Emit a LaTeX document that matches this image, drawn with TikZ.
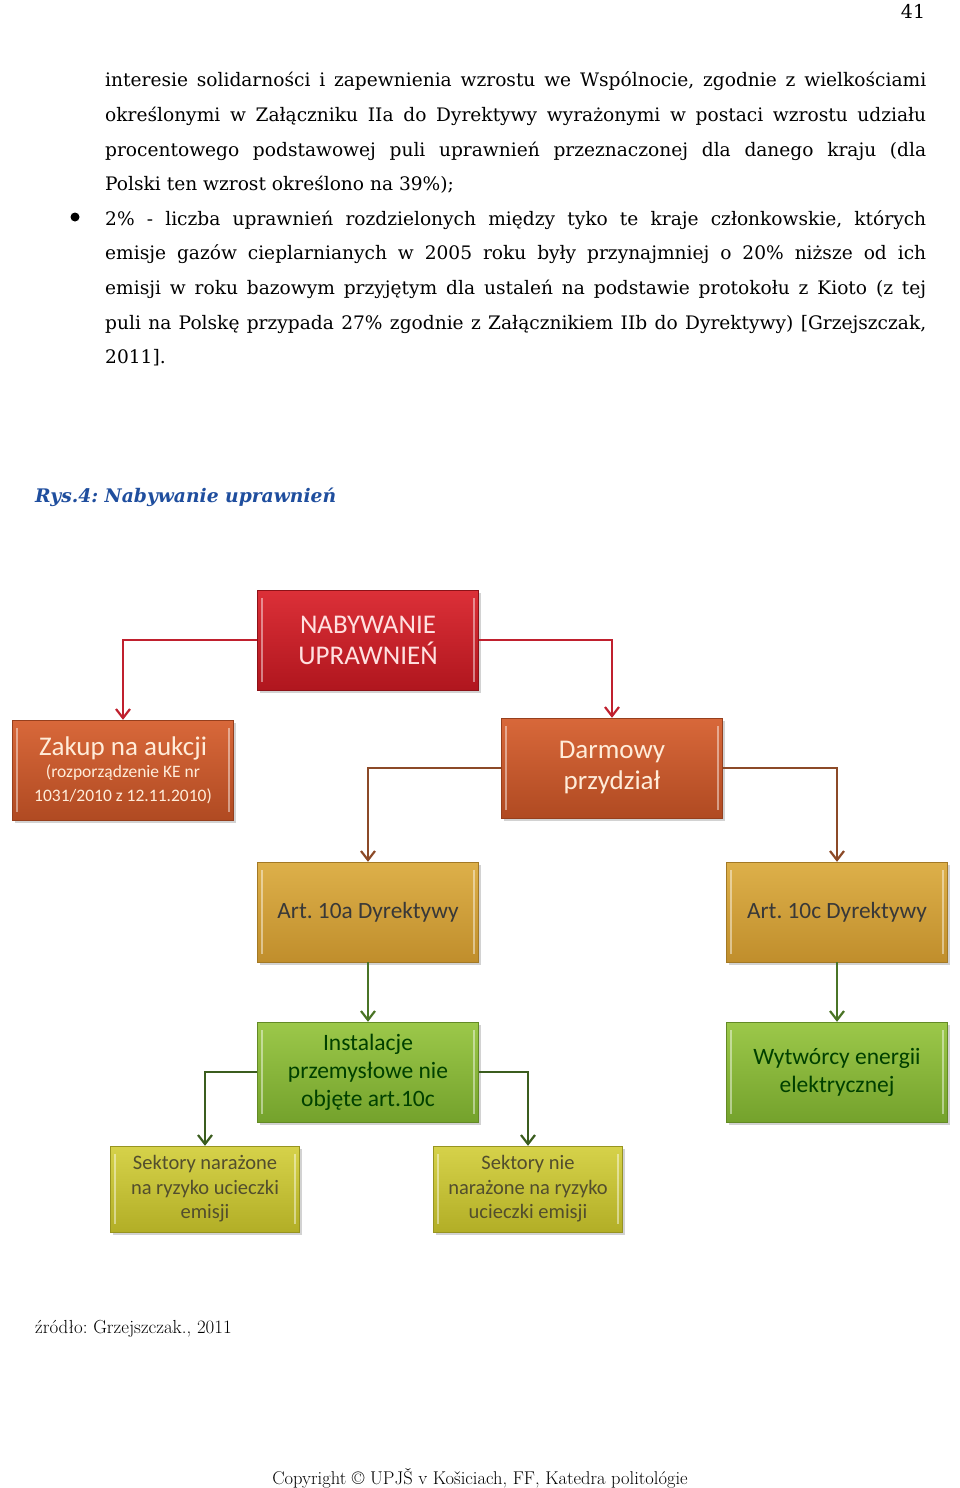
\documentclass[tikz,border=0pt]{standalone}
\usepackage{fontspec}
\usepackage{xcolor}
\usepackage{tikz}
\usetikzlibrary{arrows.meta, positioning, shadows}
\newfontfamily\bodyfont{DejaVu Serif}
\newfontfamily\boxfont{Carlito}
\newcommand{\subsize}{\fontsize{17.5}{21.5}\selectfont}
\frenchspacing
\definecolor{capblue}{HTML}{1F4E9E}
\definecolor{nabtop}{HTML}{DC3038}
\definecolor{nabbot}{HTML}{B0161E}
\definecolor{ortop}{HTML}{D8683A}
\definecolor{orbot}{HTML}{B04A22}
\definecolor{goldtop}{HTML}{DDB04A}
\definecolor{goldbot}{HTML}{C08E2C}
\definecolor{grtop}{HTML}{9CC84A}
\definecolor{grbot}{HTML}{74A22C}
\definecolor{yltop}{HTML}{D6D24A}
\definecolor{ylbot}{HTML}{B2AE26}
\definecolor{redline}{HTML}{C0202E}
\definecolor{brownline}{HTML}{8C4A28}
\definecolor{greenline}{HTML}{4A7426}

\begin{document}
\begin{tikzpicture}[
  x=1pt, y=-1pt,
  bodyline/.style={anchor=base west, inner sep=0pt, font=\bodyfont\fontsize{18.6}{22}\selectfont},
  bevelline/.style={draw=white, draw opacity=0.45, line width=2pt},
  bevel/.style={append after command={
    ([xshift=5pt,yshift=-8pt]\tikzlastnode.north west) edge[bevelline] ([xshift=5pt,yshift=8pt]\tikzlastnode.south west)
    ([xshift=-5pt,yshift=-8pt]\tikzlastnode.north east) edge[bevelline] ([xshift=-5pt,yshift=8pt]\tikzlastnode.south east)}},
  box/.style={rectangle, minimum width=221pt, minimum height=100pt, inner sep=3pt,
              align=center, font=\boxfont\fontsize{27}{31}\selectfont,
              drop shadow={shadow xshift=2pt, shadow yshift=-3pt, opacity=0.35}, bevel},
  nabbox/.style={box, top color=nabtop, bottom color=nabbot, draw=nabbot!80!black, text=red!12},
  orbox/.style={box, top color=ortop, bottom color=orbot, draw=orbot!85!black, text=orange!15},
  goldbox/.style={box, top color=goldtop, bottom color=goldbot, draw=goldbot!85!black, text=black!78,
                  font=\boxfont\fontsize{23.3}{28}\selectfont},
  grbox/.style={box, top color=grtop, bottom color=grbot, draw=grbot!85!black, text=green!25!black,
                font=\boxfont\fontsize{23.5}{28}\selectfont},
  ylbox/.style={box, top color=yltop, bottom color=ylbot, draw=ylbot!85!black, text=olive!45!black,
                minimum width=189pt, minimum height=86pt, font=\boxfont\fontsize{20.5}{24.5}\selectfont},
  arrow/.style={-{Straight Barb[length=9pt, width=14pt]}, line width=2.2pt}
]
\useasboundingbox (0,0) rectangle (960,1488);
\fill[white] (0,0) rectangle (960,1488);

% page text
\node[font=\bodyfont\fontsize{19}{22}\selectfont] (pagenum) at (913,11) {41};
\node[bodyline] (l1) at (105,86) {\makebox[821pt][s]{interesie solidarności i zapewnienia wzrostu we Wspólnocie, zgodnie z wielkościami}};
\node[bodyline] (l2) at (105,121) {\makebox[821pt][s]{określonymi w Załączniku IIa do Dyrektywy wyrażonymi w postaci wzrostu udziału}};
\node[bodyline] (l3) at (105,156) {\makebox[821pt][s]{procentowego podstawowej puli uprawnień przeznaczonej dla danego kraju (dla}};
\node[bodyline] (l4) at (105,190) {Polski ten wzrost określono na 39\%);};
\node[circle, fill=black, inner sep=0pt, minimum size=9pt] (bullet) at (75,217) {};
\node[bodyline] (l5) at (105,225) {\makebox[821pt][s]{2\% - liczba uprawnień rozdzielonych między tyko te kraje członkowskie, których}};
\node[bodyline] (l6) at (105,259) {\makebox[821pt][s]{emisje gazów cieplarnianych w 2005 roku były przynajmniej o 20\% niższe od ich}};
\node[bodyline] (l7) at (105,294) {\makebox[821pt][s]{emisji w roku bazowym przyjętym dla ustaleń na podstawie protokołu z Kioto (z tej}};
\node[bodyline] (l8) at (105,329) {\makebox[821pt][s]{puli na Polskę przypada 27\% zgodnie z Załącznikiem IIb do Dyrektywy) [Grzejszczak,}};
\node[bodyline] (l9) at (105,363) {2011].};
\node[anchor=base west, inner sep=0pt, text=capblue, font=\bodyfont\bfseries\itshape\fontsize{18.7}{22}\selectfont] (caption) at (35,502) {Rys.4: Nabywanie uprawnień};

% diagram
\node[nabbox] (nab) at (368,640) {NABYWANIE\\UPRAWNIEŃ};
\node[orbox, font=\boxfont\fontsize{27}{24}\selectfont] (zakup) at (123,770) {Zakup na aukcji\\[-2pt]\subsize (rozporządzenie KE nr\\\subsize 1031/2010 z 12.11.2010)};
\node[orbox] (darm) at (612,768) {Darmowy\\przydział};
\node[goldbox] (art10a) at (368,912) {Art. 10a Dyrektywy};
\node[goldbox] (art10c) at (837,912) {Art. 10c Dyrektywy};
\node[grbox] (inst) at (368,1072) {Instalacje\\przemysłowe nie\\objęte art.10c};
\node[grbox] (wyt) at (837,1072) {Wytwórcy energii\\elektrycznej};
\node[ylbox] (sekn) at (205,1189) {Sektory narażone\\na ryzyko ucieczki\\emisji};
\node[ylbox] (seknn) at (528,1189) {Sektory nie\\narażone na ryzyko\\ucieczki emisji};

\draw[arrow, redline] (nab.west) -| (zakup.north);
\draw[arrow, redline] (nab.east) -| (darm.north);
\draw[arrow, brownline] (darm.west) -| (art10a.north);
\draw[arrow, brownline] (darm.east) -| (art10c.north);
\draw[arrow, greenline] (art10a.south) -- (inst.north);
\draw[arrow, greenline] (art10c.south) -- (wyt.north);
\draw[arrow, greenline!80!black] (inst.west) -| (sekn.north);
\draw[arrow, greenline!80!black] (inst.east) -| (seknn.north);

% footer
\node[anchor=base west, inner sep=0pt, font=\fontsize{18.9}{22}\selectfont] (source) at (35,1333) {źródło: Grzejszczak., 2011};
\node[anchor=base, inner sep=0pt, font=\fontsize{18.5}{22}\selectfont] (copyright) at (480,1484) {Copyright © UPJŠ v Košiciach, FF, Katedra politológie};
\end{tikzpicture}
\end{document}
